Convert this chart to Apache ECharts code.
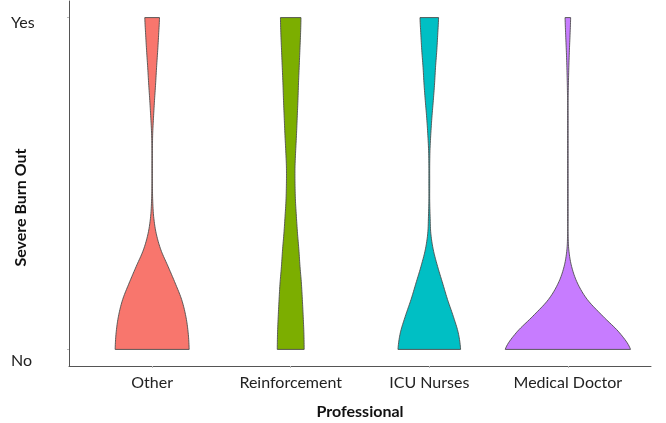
<!DOCTYPE html>
<html>
<head>
<meta charset="utf-8">
<script src="https://cdn.jsdelivr.net/npm/echarts@6/dist/echarts.min.js"></script>
<style>
html,body{margin:0;padding:0;background:#fff;}
#chart{width:666px;height:423px;}
</style>
</head>
<body>
<div id="chart"></div>
<script>
var categories = ['Other', 'Reinforcement', 'ICU Nurses', 'Medical Doctor'];
var yLabels = ['No', 'Yes'];
var colors = ['#F8766D', '#7CAE00', '#00BFC4', '#C77CFF'];
// sample positions along the No(0) -> Yes(1) scale
var levels = [0, 0.05, 0.1, 0.15, 0.2, 0.25, 0.3, 0.35, 0.4, 0.45, 0.5, 0.55, 0.6, 0.65, 0.7, 0.75, 0.8, 0.85, 0.9, 0.95, 1];
// violin half-widths (in category units) at each level
var densOther = [0.267, 0.260, 0.243, 0.213, 0.166, 0.115, 0.063, 0.029, 0.011, 0.004, 0.002, 0.002, 0.002, 0.004, 0.010, 0.017, 0.025, 0.032, 0.040, 0.047, 0.053];
var densReinforcement = [0.097, 0.095, 0.090, 0.084, 0.077, 0.067, 0.059, 0.049, 0.041, 0.034, 0.031, 0.031, 0.036, 0.042, 0.047, 0.052, 0.056, 0.061, 0.066, 0.071, 0.074];
var densICU = [0.226, 0.209, 0.173, 0.132, 0.096, 0.060, 0.029, 0.011, 0.006, 0.003, 0.003, 0.003, 0.005, 0.011, 0.019, 0.029, 0.038, 0.045, 0.054, 0.061, 0.067];
var densMedical = [0.452, 0.373, 0.253, 0.141, 0.069, 0.027, 0.007, 0.002, 0.002, 0.002, 0.002, 0.002, 0.002, 0.002, 0.002, 0.002, 0.004, 0.007, 0.011, 0.016, 0.020];
var densities = [densOther, densReinforcement, densICU, densMedical];

var FONT = 'Lato, "Open Sans", sans-serif';

function interp(arr, i, t) {
  var n = arr.length;
  var p0 = arr[Math.max(i - 1, 0)], p1 = arr[i], p2 = arr[Math.min(i + 1, n - 1)], p3 = arr[Math.min(i + 2, n - 1)];
  var t2 = t * t, t3 = t2 * t;
  var v = 0.5 * (2 * p1 + (-p0 + p2) * t + (2 * p0 - 5 * p1 + 4 * p2 - p3) * t2 + (-p0 + 3 * p1 - 3 * p2 + p3) * t3);
  return Math.max(v, 0.0015);
}

var chart = echarts.init(document.getElementById('chart'), null, {renderer: 'canvas'});
var option = {
  animation: false,
  backgroundColor: '#fff',
  grid: {left: 69, right: 15, top: 1, bottom: 57, containLabel: false, outerBoundsMode: 'none'},
  xAxis: {
    type: 'value', min: -0.6, max: 3.6,
    name: 'Professional', nameLocation: 'middle', nameGap: 38, nameMoveOverlap: false,
    nameTextStyle: {fontFamily: FONT, fontWeight: 'bold', fontSize: 16, color: '#111'},
    splitLine: {show: false},
    axisLine: {show: true, onZero: false, lineStyle: {color: '#555', width: 1}},
    axisTick: {show: true, customValues: [0, 1, 2, 3], length: 2, lineStyle: {color: '#bbb'}},
    axisLabel: {customValues: [0, 1, 2, 3], margin: 9, fontFamily: FONT, fontSize: 16, color: '#222',
      formatter: function (v) { return categories[Math.round(v)]; }}
  },
  yAxis: {
    type: 'value', min: -0.05, max: 1.05,
    name: 'Severe Burn Out', nameLocation: 'middle', nameGap: 40, nameMoveOverlap: false,
    nameTextStyle: {fontFamily: FONT, fontWeight: 'bold', fontSize: 16, color: '#111', padding: [0, 48, 0, 0]},
    splitLine: {show: false},
    axisLine: {show: true, onZero: false, lineStyle: {color: '#555', width: 1}},
    axisTick: {show: true, customValues: [0, 1], length: 2, lineStyle: {color: '#bbb'}},
    axisLabel: {customValues: [0, 1], margin: 58, align: 'left', fontFamily: FONT, fontSize: 16, color: '#222',
      formatter: function (v) { return v > 0.5 ? '{yes|' + yLabels[1] + '}' : '{no|' + yLabels[0] + '}'; },
      rich: {
        yes: {fontFamily: FONT, fontSize: 16, color: '#222', padding: [10, 0, 0, 0]},
        no: {fontFamily: FONT, fontSize: 16, color: '#222', padding: [22, 0, 0, 0]}
      }
    }
  },
  series: [{
    type: 'custom',
    coordinateSystem: 'cartesian2d',
    data: categories.map(function (c, i) { return [i]; }),
    encode: {x: 0},
    renderItem: function (params, api) {
      var idx = api.value(0);
      var dens = densities[idx];
      var n = levels.length;
      var sub = 10;
      var right = [], left = [];
      for (var i = 0; i < n - 1; i++) {
        for (var s = 0; s < sub; s++) {
          var t = s / sub;
          var v = levels[i] + (levels[i + 1] - levels[i]) * t;
          var w = interp(dens, i, t);
          right.push(api.coord([idx + w, v]));
          left.push(api.coord([idx - w, v]));
        }
      }
      right.push(api.coord([idx + dens[n - 1], levels[n - 1]]));
      left.push(api.coord([idx - dens[n - 1], levels[n - 1]]));
      var pts = right.concat(left.reverse());
      return {
        type: 'polygon',
        shape: {points: pts},
        style: {fill: colors[idx], stroke: '#4d4d4d', lineWidth: 0.9}
      };
    }
  }]
};
chart.setOption(option);
</script>
</body>
</html>
